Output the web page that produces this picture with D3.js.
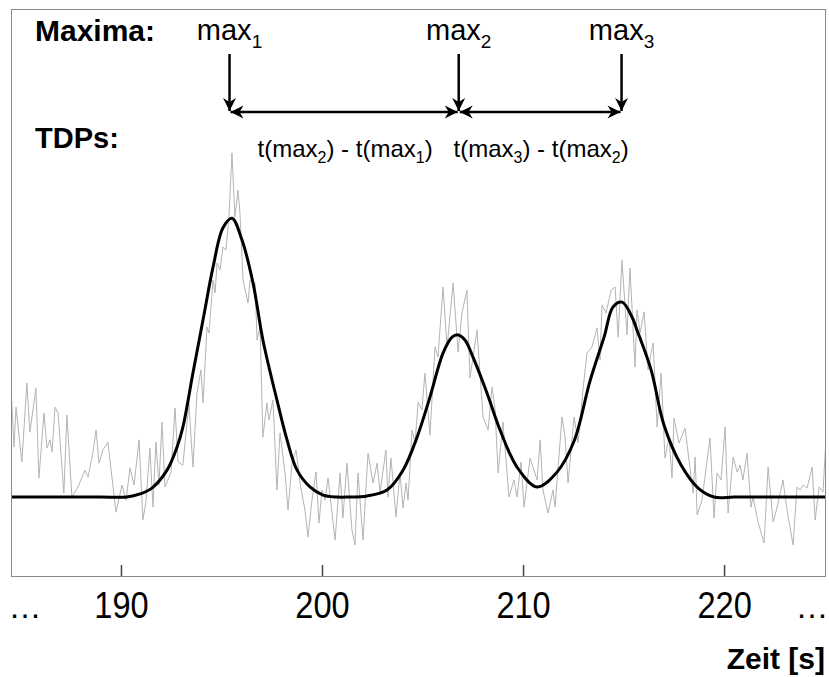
<!DOCTYPE html>
<html>
<head>
<meta charset="utf-8">
<script src="https://cdn.jsdelivr.net/npm/d3@7"></script>
<style>
  body { margin: 0; background: #fff; }
  svg { display: block; }
  text { font-family: "Liberation Sans", Arial, sans-serif; fill: #000; }
</style>
</head>
<body>
<div id="chart"></div>
<script>
var width = 829, height = 677;
var plot = {left: 11, right: 825, top: 9, bottom: 576};

// measured (noisy) signal: time [s] and intensity [a.u.]
var rawTime = [
  184.53,184.68,184.78,185.07,185.32,185.47,185.77,185.92,186.17,186.32,186.47,186.57,186.72,186.87,
  187.16,187.31,187.56,187.86,188.21,188.36,188.61,188.76,188.91,189.10,189.35,189.75,190.05,190.25,
  190.45,190.65,190.90,191.09,191.24,191.44,191.59,191.74,191.89,192.04,192.19,192.49,192.69,192.84,
  193.08,193.38,193.58,193.78,193.98,194.08,194.28,194.38,194.58,194.68,194.78,194.93,195.07,195.22,
  195.37,195.52,195.67,195.82,195.92,196.07,196.32,196.42,196.67,196.77,196.92,197.06,197.26,197.36,
  197.56,197.76,197.91,198.16,198.31,198.51,198.71,198.91,199.15,199.30,199.50,199.70,199.85,200.00,
  200.15,200.30,200.50,200.65,200.90,201.04,201.24,201.49,201.64,201.79,202.04,202.29,202.54,202.74,
  202.89,203.18,203.28,203.43,203.68,203.88,204.03,204.18,204.28,204.48,204.63,204.78,204.97,205.12,
  205.37,205.62,205.77,206.02,206.22,206.52,206.77,206.96,207.21,207.36,207.71,208.01,208.26,208.46,
  208.61,208.76,209.00,209.30,209.55,209.70,209.90,210.05,210.35,210.70,210.85,210.99,211.24,211.49,
  211.59,211.94,212.09,212.24,212.54,212.74,212.98,213.18,213.43,213.68,213.83,213.93,214.13,214.38,
  214.58,214.73,214.92,215.17,215.32,215.57,215.67,215.82,216.02,216.22,216.47,216.67,216.87,217.06,
  217.26,217.41,217.51,217.76,218.06,218.46,218.56,218.66,218.90,219.30,219.50,219.65,219.85,220.05,
  220.20,220.45,220.65,220.80,220.94,221.14,221.34,221.44,221.69,221.99,222.19,222.44,222.64,222.93,
  223.13,223.43,223.63,223.78,223.93,224.13,224.38,224.53,224.73,224.92,225.07
];
var rawValue = [
  3.93,1.79,3.21,1.25,4.07,2.32,3.89,0.68,3.00,1.75,2.04,1.61,3.21,3.00,
  0.14,2.93,0.00,0.36,0.96,0.71,1.61,2.39,1.21,1.68,1.96,-0.54,0.43,-0.11,
  1.04,0.43,2.04,-0.82,-0.18,1.75,-0.36,1.96,0.43,2.68,0.36,0.89,3.18,1.25,
  1.14,3.36,1.07,3.71,4.54,3.36,6.07,5.86,7.75,7.29,8.36,8.11,8.93,8.82,
  10.00,12.29,10.00,10.96,10.14,7.75,6.93,7.75,7.64,5.61,6.07,2.14,3.36,2.75,
  3.46,0.25,2.29,0.86,-0.46,1.21,1.68,0.50,-0.46,-1.43,-0.11,0.89,-0.93,0.25,
  -0.11,0.68,-0.57,-1.54,0.86,-0.75,1.21,-1.18,-1.71,0.86,-1.54,1.57,0.50,1.21,
  0.18,1.68,0.00,1.39,-0.71,0.86,-0.39,0.50,-0.11,2.39,1.93,3.39,3.11,4.43,
  2.21,5.36,5.00,7.50,5.36,7.64,5.18,6.57,7.39,4.25,5.96,2.86,2.39,3.93,
  3.11,0.86,2.68,0.00,0.61,0.00,1.25,-0.36,1.39,0.61,2.04,0.25,-0.57,0.25,
  -0.36,2.86,2.14,0.50,2.86,1.93,3.82,5.14,5.36,6.04,4.89,6.86,6.57,7.39,
  7.50,5.71,8.46,5.79,8.18,4.64,6.68,5.86,6.61,4.54,5.50,2.50,4.43,1.39,
  2.14,0.68,2.82,1.93,2.46,0.14,1.43,-0.64,-0.11,2.11,-0.75,0.86,0.61,2.50,
  -0.57,1.43,0.89,1.14,0.61,1.57,-0.36,0.00,-0.89,-1.64,1.07,-0.89,-0.36,0.61,
  -0.46,-1.71,0.36,0.25,0.43,0.32,1.07,-0.82,0.36,0.18,2.11
];

// fitted (smoothed) signal
var fitTime = [
  184.53,186.00,187.50,189.00,190.30,190.95,191.54,192.29,192.79,193.08,193.58,194.08,194.58,195.07,
  195.52,196.02,196.57,197.06,197.76,198.26,198.76,199.40,200.05,200.75,201.29,202.24,203.23,204.03,
  204.73,205.37,206.02,206.47,206.77,207.11,207.51,208.21,208.86,209.70,210.70,211.69,212.54,213.33,
  214.03,214.48,214.93,215.42,215.67,216.37,217.01,217.86,218.71,219.50,220.50,222.00,223.50,225.02
];
var fitValue = [
  0,0,0,0,0,0.11,0.32,0.96,1.79,2.50,4.43,6.32,8.21,9.61,
  9.96,9.18,7.64,5.61,3.46,2.04,0.96,0.36,0.07,0,0,0.04,0.25,0.96,
  2.14,3.57,5.14,5.71,5.79,5.61,5.00,3.71,2.39,1.07,0.36,0.89,2.00,4.14,
  5.71,6.79,6.96,6.43,5.96,4.54,2.57,1.14,0.32,0,0,0,0,0
];

var tickValues = [190, 200, 210, 220];
var maxTimes = [195.4, 206.8, 214.9];
var maxIndex = ["1", "2", "3"];
var tdpPairs = [["2", "1"], ["3", "2"]];

var svg = d3.select("#chart")
  .append("svg")
    .attr("width", width)
    .attr("height", height);

var x = d3.scaleLinear()
  .domain([184.53, 225.02])
  .range([plot.left, plot.right]);

var y = d3.scaleLinear()
  .domain([-2.82, 17.43])
  .range([plot.bottom, plot.top]);

svg.append("clipPath")
    .attr("id", "clip")
  .append("rect")
    .attr("x", plot.left)
    .attr("y", plot.top)
    .attr("width", plot.right - plot.left)
    .attr("height", plot.bottom - plot.top);

var rawData = rawTime.map((t, i) => ({t: t, v: rawValue[i]}));
var fitData = fitTime.map((t, i) => ({t: t, v: fitValue[i]}));

var lines = svg.append("g").attr("clip-path", "url(#clip)");

lines.append("path")
  .datum(rawData)
    .attr("fill", "none")
    .attr("stroke", "#b4b4b4")
    .attr("stroke-width", 1)
    .attr("d", d3.line().x(d => x(d.t)).y(d => y(d.v)));

lines.append("path")
  .datum(fitData)
    .attr("fill", "none")
    .attr("stroke", "#000")
    .attr("stroke-width", 3)
    .attr("stroke-linejoin", "round")
    .attr("d", d3.line().x(d => x(d.t)).y(d => y(d.v)).curve(d3.curveCatmullRom.alpha(0.5)));

// frame
svg.append("rect")
    .attr("x", plot.left + 0.5)
    .attr("y", plot.top + 0.5)
    .attr("width", plot.right - plot.left)
    .attr("height", plot.bottom - plot.top)
    .attr("fill", "none")
    .attr("stroke", "#8a8a8a")
    .attr("stroke-width", 1);

// x axis: ticks pointing inwards, narrow tall labels
var axis = svg.append("g")
    .attr("transform", `translate(0,${plot.bottom})`)
    .call(d3.axisBottom(x)
      .tickValues(tickValues)
      .tickSizeInner(-11)
      .tickSizeOuter(0)
      .tickPadding(16)
      .tickFormat(d3.format("d")));

axis.select(".domain").remove();
axis.selectAll(".tick line").attr("stroke", "#444").attr("stroke-width", 1.5);
axis.selectAll(".tick text")
    .attr("font-size", 37)
    .attr("font-family", null)
    .attr("fill", "#000")
    .attr("transform", "scale(0.88,1)");

[plot.left + 14, plot.right - 13].forEach(px => {
  svg.append("text")
      .attr("x", px)
      .attr("y", 618)
      .attr("text-anchor", "middle")
      .attr("font-size", 33)
      .text("\u2026");
});

svg.append("text")
    .attr("x", plot.right)
    .attr("y", 669)
    .attr("text-anchor", "end")
    .attr("font-size", 30)
    .attr("font-weight", "bold")
    .text("Zeit [s]");

// annotations
svg.append("text")
    .attr("x", 35).attr("y", 41)
    .attr("font-size", 30).attr("font-weight", "bold")
    .text("Maxima:");

svg.append("text")
    .attr("x", 35).attr("y", 148)
    .attr("font-size", 29).attr("font-weight", "bold")
    .text("TDPs:");

var defs = svg.append("defs");
defs.append("marker")
    .attr("id", "head")
    .attr("viewBox", "-14 -7 15 14")
    .attr("refX", 0).attr("refY", 0)
    .attr("markerUnits", "userSpaceOnUse")
    .attr("markerWidth", 15).attr("markerHeight", 14)
    .attr("orient", "auto-start-reverse")
  .append("path")
    .attr("d", "M0,0 L-13,-6.5 L-9,0 L-13,6.5 Z")
    .attr("fill", "#000");

var arrowY = 112;

var maxLabel = svg.append("g").selectAll("text")
  .data(maxTimes)
  .join("text")
    .attr("x", d => x(d))
    .attr("y", 40)
    .attr("text-anchor", "middle")
    .attr("font-size", 29);
maxLabel.append("tspan").text("max");
maxLabel.append("tspan")
    .attr("font-size", 19)
    .attr("dy", 8)
    .text((d, i) => maxIndex[i]);

svg.append("g").selectAll("line")
  .data(maxTimes)
  .join("line")
    .attr("x1", d => x(d)).attr("x2", d => x(d))
    .attr("y1", 54).attr("y2", arrowY - 1)
    .attr("stroke", "#000")
    .attr("stroke-width", 2.5)
    .attr("marker-end", "url(#head)");

svg.append("g").selectAll("line")
  .data(d3.pairs(maxTimes))
  .join("line")
    .attr("x1", d => x(d[0]) + 1).attr("x2", d => x(d[1]) - 1)
    .attr("y1", arrowY).attr("y2", arrowY)
    .attr("stroke", "#000")
    .attr("stroke-width", 2.5)
    .attr("marker-start", "url(#head)")
    .attr("marker-end", "url(#head)");

var tdp = svg.append("g").selectAll("text")
  .data(d3.pairs(maxTimes))
  .join("text")
    .attr("x", d => (x(d[0]) + x(d[1])) / 2 + 1)
    .attr("y", 157)
    .attr("text-anchor", "middle")
    .attr("font-size", 24);
tdp.each(function(d, i) {
  var t = d3.select(this);
  t.append("tspan").text("t(max");
  t.append("tspan").attr("font-size", 16).attr("dy", 6).text(tdpPairs[i][0]);
  t.append("tspan").attr("dy", -6).text(") - t(max");
  t.append("tspan").attr("font-size", 16).attr("dy", 6).text(tdpPairs[i][1]);
  t.append("tspan").attr("dy", -6).text(")");
});
</script>
</body>
</html>
